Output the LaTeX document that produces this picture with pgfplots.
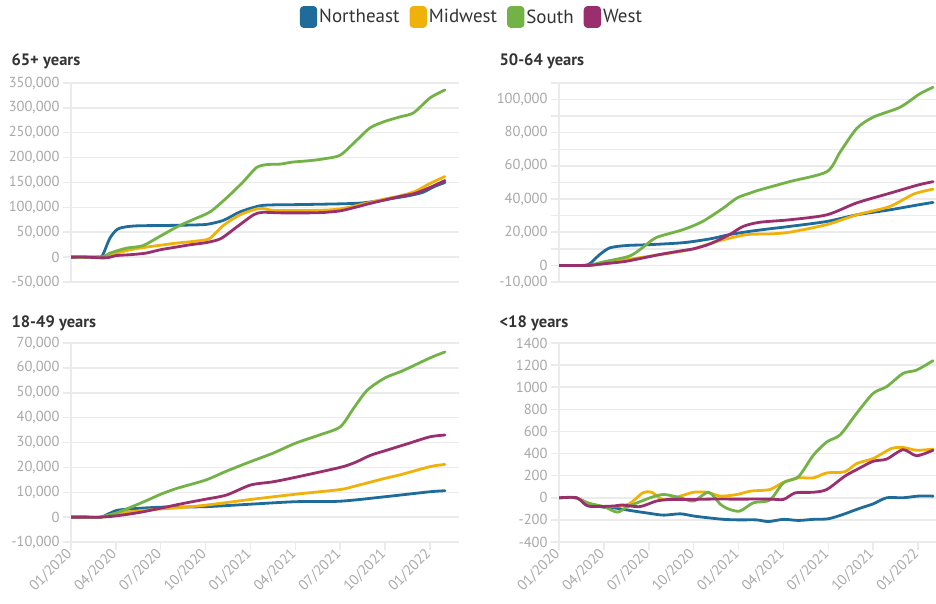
\documentclass[border=0pt]{standalone}
\usepackage{pgfplots}
\pgfplotsset{compat=1.18}
\usepackage{fontspec}
\setmainfont{PT Sans}
\definecolor{cNE}{HTML}{1F6B9A}
\definecolor{cMW}{HTML}{F0B20A}
\definecolor{cS}{HTML}{72B247}
\definecolor{cW}{HTML}{9A2F6E}
\definecolor{gridgray}{HTML}{EBEBEB}
\definecolor{labgray}{HTML}{A8A8A8}
\definecolor{textdark}{HTML}{333333}
\begin{document}
\begin{tikzpicture}[x=1pt,y=1pt]
\useasboundingbox (0pt,0pt) rectangle (936pt,603pt);
\pgfplotsset{
  panel/.style={
    scale only axis, height=199pt, anchor=south west,
    xmin=0, enlargelimits=false,
    axis x line=bottom, axis y line=left,
    axis line style={-, draw=gridgray, line width=1.5pt},
    ymajorgrids, major grid style={draw=gridgray, line width=1.5pt},
    tick style={draw=gridgray, line width=1.5pt}, major tick length=8pt, tick align=outside,
    ticklabel style={font=\fontsize{14.5}{16}\selectfont, text=labgray},
    scaled y ticks=false, scaled x ticks=false,
    every axis plot/.append style={line width=2.8pt, smooth, tension=0.45, line join=round, line cap=round},
  },
  leftpanel/.style={panel, width=388pt, xmax=25.94},
  rightpanel/.style={panel, width=377pt, xmax=25.2},
  toppanel/.style={xtick=\empty},
  bottompanel/.style={xtick={0,3,...,24},
    xticklabels={01/2020,04/2020,07/2020,10/2020,01/2021,04/2021,07/2021,10/2021,01/2022},
    xticklabel style={rotate=45, anchor=east, inner sep=2pt}},
}
% ---------------- 65+ years
\begin{axis}[leftpanel, toppanel, at={(71pt,321pt)},
  ymin=-50000, ymax=350000,
  ytick={-50000,0,50000,100000,150000,200000,250000,300000,350000},
  yticklabels={{-50,000},{0},{50,000},{100,000},{150,000},{200,000},{250,000},{300,000},{350,000}},
  legend columns=4,
  legend style={at={(1.0335,1.3317)}, anchor=center, draw=none, fill=none,
    font=\fontsize{19}{21}\selectfont, text=textdark,
    /tikz/column 2/.style={column sep=8pt},
    /tikz/column 4/.style={column sep=8pt},
    /tikz/column 6/.style={column sep=8pt}},
  legend image code/.code={\fill[rounded corners=2.5pt] (0pt,-9.5pt) rectangle (14.5pt,9.5pt);},
]
\addplot[cNE] coordinates {(0,0)(1,0)(1.8,500)(2.1,3000)(2.6,38000)(3.1,56000)(3.7,61000)(4.5,63000)(6,63500)(8,64500)(9.1,66000)(10.2,74000)(11.3,91000)(12.6,103000)(13.5,105000)(15,105500)(17,106500)(18.5,107500)(19.5,109000)(20.5,113000)(21.5,118000)(22.5,123000)(23.5,130000)(24.3,142000)(25,150000)};
\addlegendentry{Northeast}
\addplot[cMW] coordinates {(0,0)(1,0)(2,0)(3,8000)(4,15000)(5,20000)(6,24000)(7,28000)(8,31000)(8.8,34000)(9.3,38000)(10.2,64000)(11.3,85000)(12.6,98000)(13.5,94000)(15,93500)(17,94500)(18,97000)(19,103000)(20,110000)(21,117000)(22,123000)(23,132000)(24,148000)(25,162000)};
\addlegendentry{Midwest}
\addplot[cS] coordinates {(0,0)(1,0)(2.1,0)(2.6,8000)(3.7,18000)(4.8,23000)(5.9,41000)(7.1,61000)(8.2,76000)(9.3,91000)(10.4,119000)(11.5,151000)(12.4,180000)(13.1,186000)(14,187000)(14.8,191000)(16,194000)(17,198000)(18,205000)(19,232000)(20,260000)(21,273000)(22,282000)(22.9,290000)(24,320000)(25,336000)};
\addlegendentry{South}
\addplot[cW] coordinates {(0,0)(1,0)(2,-1500)(2.5,-1000)(3,3000)(4,5000)(5,8000)(6,15000)(7,20000)(8,25000)(9,29000)(10,37000)(11.1,61000)(12.2,85000)(12.8,90000)(14,89000)(16,89000)(17,90000)(18,93000)(19,100000)(20,108000)(21,115000)(22,122000)(23,128000)(24,140000)(25,154000)};
\addlegendentry{West}
\end{axis}
% ---------------- 50-64 years
\begin{axis}[rightpanel, toppanel, at={(559pt,321pt)},
  ymin=-10000, ymax=110000,
  ytick={-10000,0,10000,20000,30000,40000,50000,60000,70000,80000,90000,100000,110000},
  yticklabels={{-10,000},{0},{},{20,000},{},{40,000},{},{60,000},{},{80,000},{},{100,000},{}},
]
\addplot[cNE] coordinates {(0,0)(1,0)(1.95,500)(2.7,6400)(3.4,10600)(4.5,12000)(6,12500)(8.3,13700)(10.1,16000)(11.4,18600)(12.8,20600)(14,22000)(15.4,23500)(17.9,26500)(19.9,30500)(22.1,33500)(24,36500)(25,38000)};
\addplot[cMW] coordinates {(0,0)(1,0)(2,0)(3.4,1500)(4.5,3500)(6.1,5600)(8.8,9600)(10.6,14600)(12.5,18500)(14.1,19000)(15.4,20000)(17.9,24600)(19.9,30500)(22.1,35500)(23.7,43000)(25,46000)};
\addplot[cS] coordinates {(0,0)(1,0)(2,0)(2.9,2000)(4.7,5600)(5.6,10800)(6.5,16800)(8.3,21600)(9.6,26500)(11,34700)(11.9,40700)(12.8,43700)(13.4,45500)(15.4,50500)(17.9,56500)(18.8,68500)(19.9,82600)(21,89400)(22.8,95400)(24.1,103400)(25,107400)};
\addplot[cW] coordinates {(0,0)(1,0)(2,0)(3,1000)(4.5,2500)(6.75,6600)(8.3,9000)(9,10000)(10.1,13000)(11.4,18600)(12.3,23500)(13.4,26000)(15.4,27500)(17.9,30500)(19.9,37700)(22.1,43500)(24,48500)(25,50500)};
\end{axis}
% ---------------- 18-49 years
\begin{axis}[leftpanel, bottompanel, at={(71pt,61pt)},
  ymin=-10000, ymax=70000,
  ytick={-10000,0,10000,20000,30000,40000,50000,60000,70000},
  yticklabels={{-10,000},{0},{10,000},{20,000},{30,000},{40,000},{50,000},{60,000},{70,000}},
]
\addplot[cNE] coordinates {(0,0)(1,0)(2,0)(3,2600)(4,3300)(6,4000)(9,4200)(12,5200)(15,6200)(18,6400)(21,8200)(24,10200)(25,10600)};
\addplot[cMW] coordinates {(0,0)(1,0)(2,0)(3,1500)(4,2200)(6,3300)(7,3700)(9,4800)(12,7100)(15,9200)(18,11100)(19,12500)(21,15600)(22,17000)(24,20300)(25,21200)};
\addplot[cS] coordinates {(0,0)(1,0)(2,0)(3,1600)(4.8,6000)(6,9200)(7.1,11600)(9,14900)(10.4,18500)(12,22300)(13.5,25700)(15,29700)(16.6,33000)(18,36300)(18.9,43800)(19.8,51000)(21,56000)(22.2,58900)(24,64000)(25,66400)};
\addplot[cW] coordinates {(0,0)(1,0)(2,0)(3,500)(4.5,1800)(6,3600)(7.5,5500)(9,7200)(10.4,8900)(12,12900)(13.5,14200)(15,16000)(18,20000)(19,22000)(20,24800)(21,26700)(22.5,29500)(24,32300)(25,33000)};
\end{axis}
% ---------------- <18 years
\begin{axis}[rightpanel, bottompanel, at={(559pt,61pt)},
  ymin=-400, ymax=1400,
  ytick={-400,-200,0,200,400,600,800,1000,1200,1400},
  yticklabels={{-400},{-200},{0},{200},{400},{600},{800},{1000},{1200},{1400}},
]
\addplot[cNE] coordinates {(0,0)(1.1,0)(2,-60)(3,-85)(3.6,-90)(5,-120)(6,-140)(7,-157)(8.1,-145)(9,-165)(9.9,-180)(11,-195)(12,-200)(13.2,-200)(14,-215)(15,-195)(16,-205)(17,-195)(18,-190)(19,-150)(20,-100)(21,-55)(21.9,0)(23,0)(24,15)(25,15)};
\addplot[cMW] coordinates {(0,0)(1.1,0)(2,-50)(3,-80)(4.6,-60)(5.6,45)(6.2,50)(7,-20)(8.1,15)(9,50)(9.9,50)(10.8,15)(11.9,30)(12.8,60)(14.1,75)(15,140)(16,180)(17,180)(17.9,225)(19.1,235)(19.9,310)(21,355)(22.2,445)(23,455)(23.9,430)(25,440)};
\addplot[cS] coordinates {(0,0)(1.1,0)(2,-50)(3,-80)(3.9,-130)(4.6,-80)(6.1,0)(7,30)(8.1,0)(9,-30)(10,50)(10.8,-60)(11.4,-105)(12.1,-120)(13,-45)(14.1,-20)(15,135)(16,190)(17,385)(17.9,505)(18.8,570)(19.9,765)(21,945)(21.9,1005)(23,1125)(23.9,1155)(25,1240)};
\addplot[cW] coordinates {(0,0)(1.2,0)(1.95,-75)(3.6,-75)(4.2,-65)(5.4,-80)(6.5,-30)(7.4,-15)(9,-15)(10,-12)(12,-12)(14.1,-12)(15,-15)(15.8,45)(17,50)(17.9,75)(19.1,195)(19.9,255)(21,330)(21.9,350)(23,435)(23.9,380)(25,430)};
\end{axis}
% titles
\node[anchor=base west, font=\bfseries\fontsize{16.5}{18}\selectfont, text=textdark] at (8pt,537pt) {65+ years};
\node[anchor=base west, font=\bfseries\fontsize{16.5}{18}\selectfont, text=textdark] at (496pt,537pt) {50-64 years};
\node[anchor=base west, font=\bfseries\fontsize{16.5}{18}\selectfont, text=textdark] at (8pt,276pt) {18-49 years};
\node[anchor=base west, font=\bfseries\fontsize{16.5}{18}\selectfont, text=textdark] at (496pt,276pt) {<18 years};
\end{tikzpicture}
\end{document}
